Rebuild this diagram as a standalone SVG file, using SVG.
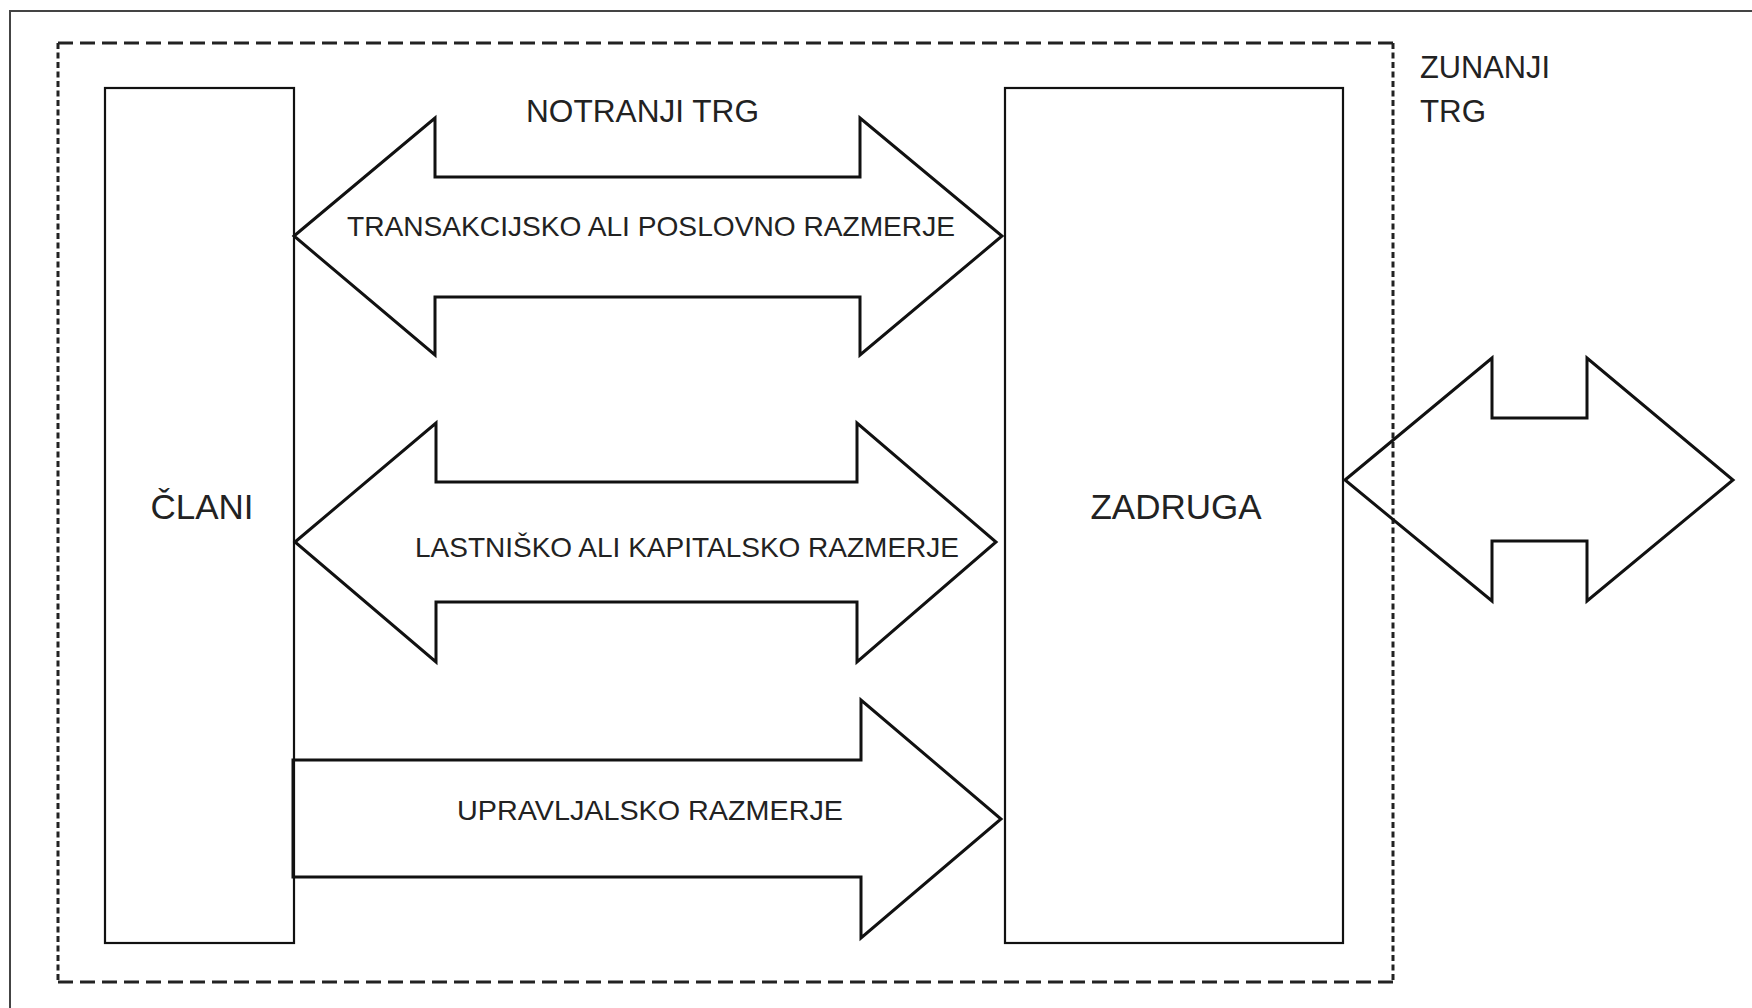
<svg xmlns="http://www.w3.org/2000/svg" width="1752" height="1008" viewBox="0 0 1752 1008">
  <style>
    .frame { fill: none; stroke: #444; stroke-width: 2; }
    .dash-h { fill: none; stroke: #222; stroke-width: 3; stroke-dasharray: 15 7; }
    .dash-v { fill: none; stroke: #222; stroke-width: 3; stroke-dasharray: 6 3.5; }
    .box { fill: none; stroke: #111; stroke-width: 2.2; }
    .arrow { fill: none; stroke: #111; stroke-width: 3; stroke-linejoin: miter; }
    .t { font-family: "Liberation Sans", Arial, sans-serif; fill: #222; }
    .big { font-size: 35px; text-anchor: middle; }
    .mid { font-size: 31px; }
    .lbl { font-size: 28px; }
  </style>
  <rect x="0" y="0" width="1752" height="1008" fill="#ffffff"/>
  <path class="frame" d="M10,1010 V11 H1754"/>
  <g id="notranji-trg-boundary">
    <line class="dash-h" x1="58" y1="43" x2="1393" y2="43"/>
    <line class="dash-h" x1="58" y1="982" x2="1393" y2="982"/>
    <line class="dash-v" x1="58" y1="43" x2="58" y2="982"/>
    <line class="dash-v" x1="1393" y1="43" x2="1393" y2="982"/>
  </g>
  <g id="clani">
    <rect class="box" x="105" y="88" width="189" height="855"/>
    <text class="t big" x="202" y="519">ČLANI</text>
  </g>
  <g id="zadruga">
    <rect class="box" x="1005" y="88" width="338" height="855"/>
    <text class="t big" x="1176" y="519">ZADRUGA</text>
  </g>
  <g id="connectors">
    <path class="arrow" d="M294,236 L435,118 L435,177 L860,177 L860,118 L1002,236 L860,355 L860,297 L435,297 L435,355 Z"/>
    <path class="arrow" d="M295,542 L436,423 L436,482 L857,482 L857,423 L996,542 L857,662 L857,602 L436,602 L436,662 Z"/>
    <path class="arrow" d="M293,760 L861,760 L861,700 L1001,819 L861,938 L861,877 L293,877 Z"/>
    <path class="arrow" d="M1345,480 L1492,358 L1492,418 L1587,418 L1587,358 L1733,480 L1587,601 L1587,541 L1492,541 L1492,601 Z"/>
    <text class="t lbl" x="347" y="236" textLength="608" lengthAdjust="spacingAndGlyphs">TRANSAKCIJSKO ALI POSLOVNO RAZMERJE</text>
    <text class="t lbl" x="415" y="557" textLength="544" lengthAdjust="spacingAndGlyphs">LASTNIŠKO ALI KAPITALSKO RAZMERJE</text>
    <text class="t lbl" x="457" y="820" textLength="386" lengthAdjust="spacingAndGlyphs">UPRAVLJALSKO RAZMERJE</text>
  </g>
  <g id="labels">
    <text class="t mid" x="526" y="122" textLength="233" lengthAdjust="spacingAndGlyphs">NOTRANJI TRG</text>
    <text class="t mid" x="1420" y="78" textLength="130" lengthAdjust="spacingAndGlyphs">ZUNANJI</text>
    <text class="t mid" x="1420" y="122" textLength="66" lengthAdjust="spacingAndGlyphs">TRG</text>
  </g>
</svg>
